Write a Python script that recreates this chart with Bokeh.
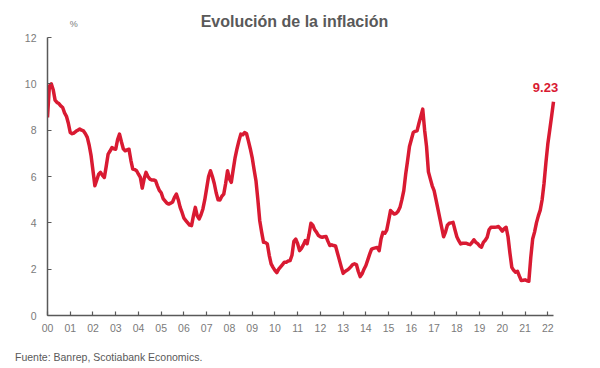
from bokeh.plotting import figure
from bokeh.models import Range1d, FixedTicker, Label, Div
from bokeh.layouts import column
from bokeh.embed import file_html
from bokeh.resources import INLINE

# Monthly annual inflation (%), Jan 2000 - Apr 2022, one list per year
y2000 = [8.55, 9.9, 10.0, 9.75, 9.3, 9.2, 9.15, 9.05, 8.98, 8.75, 8.6, 8.3]
y2001 = [7.9, 7.85, 7.88, 7.95, 8.0, 8.05, 8.0, 7.97, 7.85, 7.69, 7.35, 6.9]
y2002 = [6.25, 5.6, 5.85, 6.1, 6.18, 6.05, 5.96, 6.45, 6.97, 7.1, 7.25, 7.2]
y2003 = [7.18, 7.6, 7.83, 7.5, 7.2, 7.11, 7.15, 7.18, 6.7, 6.32, 6.3, 6.25]
y2004 = [6.1, 5.96, 5.5, 5.9, 6.18, 6.0, 5.89, 5.85, 5.85, 5.82, 5.6, 5.4]
y2005 = [5.3, 5.05, 4.95, 4.85, 4.81, 4.85, 4.9, 5.1, 5.24, 5.0, 4.67, 4.45]
y2006 = [4.2, 4.1, 4.0, 3.9, 3.88, 4.3, 4.67, 4.3, 4.17, 4.35, 4.6, 5.0]
y2007 = [5.5, 6.0, 6.25, 6.0, 5.7, 5.3, 5.0, 4.99, 5.15, 5.24, 5.7, 6.25]
y2008 = [5.9, 5.75, 6.3, 6.82, 7.2, 7.54, 7.83, 7.8, 7.9, 7.86, 7.54, 7.2]
y2009 = [6.82, 6.3, 5.82, 5.0, 4.09, 3.6, 3.16, 3.15, 3.09, 2.6, 2.23, 2.08]
y2010 = [1.95, 1.85, 2.0, 2.1, 2.2, 2.3, 2.3, 2.35, 2.37, 2.6, 3.2, 3.3]
y2011 = [3.1, 2.8, 2.9, 3.05, 3.23, 3.1, 3.5, 3.98, 3.9, 3.7, 3.59, 3.45]
y2012 = [3.4, 3.38, 3.4, 3.41, 3.2, 3.02, 3.05, 3.02, 3.0, 2.7, 2.4, 2.1]
y2013 = [1.82, 1.9, 1.95, 2.01, 2.1, 2.2, 2.23, 2.2, 1.9, 1.68, 1.8, 2.0]
y2014 = [2.16, 2.4, 2.65, 2.87, 2.9, 2.92, 2.94, 2.8, 3.3, 3.59, 3.55, 3.69]
y2015 = [4.1, 4.53, 4.45, 4.38, 4.41, 4.5, 4.67, 5.0, 5.39, 6.1, 6.68, 7.3]
y2016 = [7.6, 7.9, 7.95, 7.97, 8.3, 8.6, 8.91, 8.0, 7.3, 6.2, 5.9, 5.6]
y2017 = [5.39, 5.0, 4.6, 4.2, 3.8, 3.4, 3.6, 3.9, 3.98, 4.0, 4.02, 3.7]
y2018 = [3.4, 3.23, 3.09, 3.12, 3.12, 3.12, 3.08, 3.06, 3.15, 3.27, 3.16, 3.1]
y2019 = [3.0, 2.95, 3.16, 3.25, 3.38, 3.7, 3.81, 3.81, 3.81, 3.82, 3.84, 3.75]
y2020 = [3.64, 3.75, 3.81, 3.4, 2.7, 2.08, 1.95, 1.87, 1.91, 1.7, 1.51, 1.52]
y2021 = [1.54, 1.5, 1.48, 2.5, 3.3, 3.6, 4.0, 4.3, 4.55, 5.0, 5.7, 6.6]
y2022 = [7.4, 8.0, 8.6, 9.23]

year_labels = ["00", "01", "02", "03", "04", "05", "06", "07", "08", "09", "10",
               "11", "12", "13", "14", "15", "16", "17", "18", "19", "20", "21", "22"]
y_ticks = [0, 2, 4, 6, 8, 10, 12]

inflation = (y2000 + y2001 + y2002 + y2003 + y2004 + y2005 + y2006 + y2007 + y2008
             + y2009 + y2010 + y2011 + y2012 + y2013 + y2014 + y2015 + y2016 + y2017
             + y2018 + y2019 + y2020 + y2021 + y2022)
month_index = list(range(len(inflation)))
n_last = month_index[-1]

RED = "#D91A32"
GRAY = "#595959"
LABEL_GRAY = "#7a7a7a"
FONT = "Liberation Sans"

# Frame extends to the top and right edges so that annotations are not clipped;
# the axes are bounded to the data area.
p = figure(width=600, height=340, output_backend="svg", toolbar_location=None,
           x_range=Range1d(0, 291.8), y_range=Range1d(0, 13.6),
           min_border_left=47, min_border_right=0, min_border_top=0, min_border_bottom=25,
           margin=(0, 0, 0, 0))

p.line(month_index, inflation, line_color=RED, line_width=3.5, line_join="round")

p.xgrid.visible = False
p.ygrid.visible = False
p.outline_line_color = None

p.yaxis.ticker = FixedTicker(ticks=y_ticks)
p.yaxis.bounds = (0, 12)
p.xaxis.ticker = FixedTicker(ticks=[12 * i for i in range(len(year_labels))])
p.xaxis.bounds = (0, n_last)
p.xaxis.major_label_overrides = {12 * i: lab for i, lab in enumerate(year_labels)}

for ax in (p.xaxis, p.yaxis):
    ax.axis_line_color = GRAY
    ax.axis_line_width = 1.5
    ax.major_tick_line_color = GRAY
    ax.major_tick_line_width = 1.2
    ax.major_tick_in = 4
    ax.major_tick_out = 0
    ax.minor_tick_line_color = None
    ax.major_label_text_font = FONT
    ax.major_label_text_font_size = "10.5px"
    ax.major_label_text_color = LABEL_GRAY
p.yaxis.major_label_standoff = 11
p.xaxis.major_label_standoff = 8

title = Label(x=130.3, y=12.69, text="Evolución de la inflación", text_font=FONT,
              text_font_size="16px", text_font_style="bold", text_color=GRAY,
              text_align="center", text_baseline="alphabetic")
p.add_layout(title)

pct = Label(x=13.9, y=12.58, text="%", text_font=FONT, text_font_size="9px",
            text_color=LABEL_GRAY, text_align="center", text_baseline="alphabetic")
p.add_layout(pct)

last = Label(x=n_last, y=inflation[-1], x_offset=-8, y_offset=14.5,
             text=f"{inflation[-1]:.2f}", text_font=FONT, text_font_size="13px",
             text_font_style="bold", text_color=RED, text_align="center",
             text_baseline="alphabetic")
p.add_layout(last)

footer = Div(text="Fuente: Banrep, Scotiabank Economics.", width=600, height=28,
             margin=(0, 0, 0, 0),
             styles={"font-family": FONT, "font-size": "10.5px", "color": GRAY,
                     "line-height": "12px", "padding-left": "15px", "padding-top": "11px",
                     "box-sizing": "border-box"})

layout = column(p, footer, spacing=0)

open("out.html", "w").write(file_html(layout, INLINE))
